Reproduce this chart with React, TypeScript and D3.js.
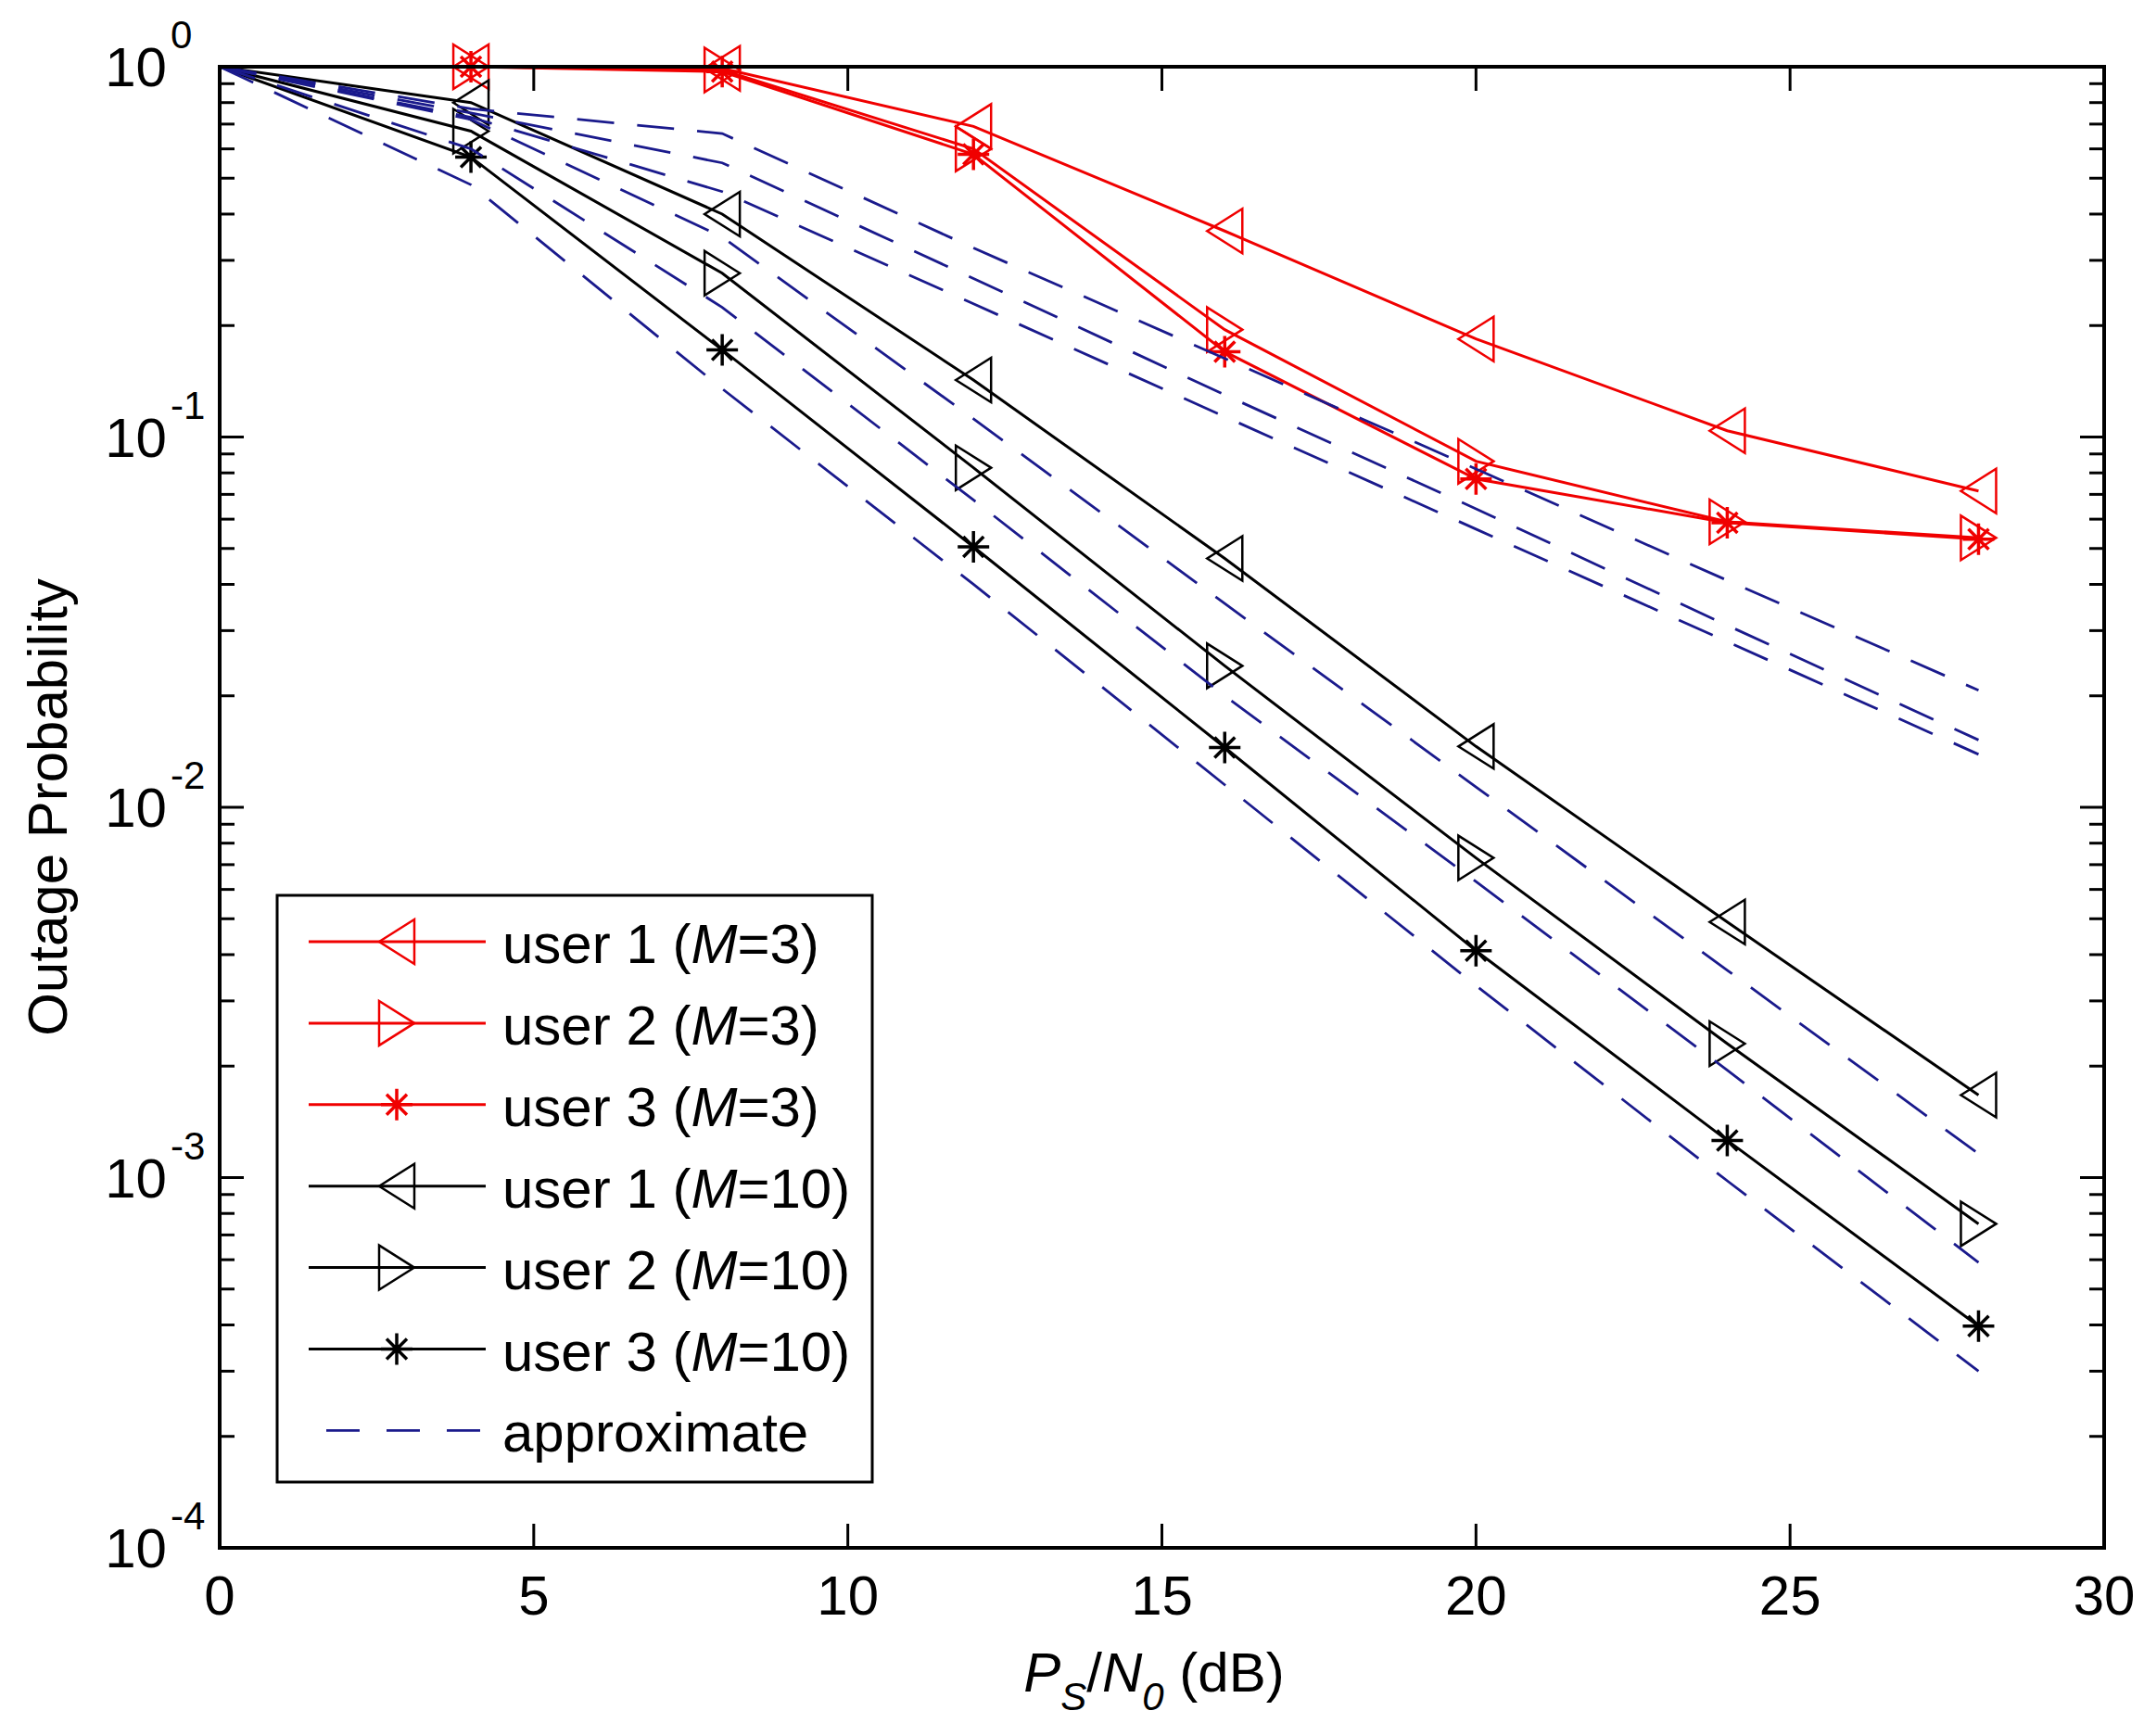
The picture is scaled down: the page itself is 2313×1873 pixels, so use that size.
import * as d3 from 'd3';
import { useEffect, useRef } from 'react';

const W = 2313;
const H = 1873;

// x values (dB) shared by every curve
const snrDb = [0, 4, 8, 12, 16, 20, 24, 28];

// simulated outage probability, M = 3
const user1M3 = [1, 1, 0.99, 0.69, 0.36, 0.184, 0.104, 0.0715];
const user2M3 = [1, 1, 0.98, 0.6, 0.195, 0.086, 0.059, 0.0534];
const user3M3 = [1, 1, 0.97, 0.58, 0.17, 0.077, 0.0587, 0.053];

// simulated outage probability, M = 10
const user1M10 = [1, 0.8, 0.4, 0.1425, 0.047, 0.0146, 0.0049, 0.00167];
const user2M10 = [1, 0.67, 0.277, 0.0826, 0.0241, 0.0073, 0.0023, 0.00075];
const user3M10 = [1, 0.57, 0.172, 0.0505, 0.0145, 0.0041, 0.00126, 0.000397];

// approximations (dashed)
const approxUser1M3 = [1, 0.77, 0.66, 0.324, 0.163, 0.082, 0.041, 0.0207];
const approxUser2M3 = [1, 0.75, 0.55, 0.268, 0.13, 0.064, 0.031, 0.0152];
const approxUser3M3 = [1, 0.73, 0.46, 0.229, 0.1135, 0.0564, 0.028, 0.0139];
const approxUser1M10 = [1, 0.72, 0.347, 0.112, 0.0355, 0.01135, 0.00363, 0.00116];
const approxUser2M10 = [1, 0.6, 0.224, 0.0676, 0.02, 0.0063, 0.00195, 0.00059];
const approxUser3M10 = [1, 0.48, 0.135, 0.04, 0.0115, 0.0033, 0.00098, 0.0003];

const xTicks = [0, 5, 10, 15, 20, 25, 30];
const legendUsers = ['user 1', 'user 2', 'user 3', 'user 1', 'user 2', 'user 3'];
const legendM = ['3', '3', '3', '10', '10', '10'];

const RED = '#f00000';
const BLACK = '#000000';
const BLUE = '#1a1a8c';
const FONT = '"Liberation Sans", Arial, Helvetica, sans-serif';

type MarkerKind = 'left' | 'right' | 'star';

const simulated: { values: number[]; color: string; marker: MarkerKind }[] = [
  { values: user1M3, color: RED, marker: 'left' },
  { values: user2M3, color: RED, marker: 'right' },
  { values: user3M3, color: RED, marker: 'star' },
  { values: user1M10, color: BLACK, marker: 'left' },
  { values: user2M10, color: BLACK, marker: 'right' },
  { values: user3M10, color: BLACK, marker: 'star' },
];

const approximations = [
  approxUser1M3,
  approxUser2M3,
  approxUser3M3,
  approxUser1M10,
  approxUser2M10,
  approxUser3M10,
];

const drawMarker = (
  g: d3.Selection<SVGGElement, unknown, null, undefined>,
  kind: MarkerKind,
  cx: number,
  cy: number,
  color: string,
) => {
  const hw = 19;
  const hh = 24;
  if (kind === 'left' || kind === 'right') {
    const s = kind === 'left' ? 1 : -1;
    g.append('path')
      .attr('d', `M${cx - s * hw},${cy}L${cx + s * hw},${cy - hh}L${cx + s * hw},${cy + hh}Z`)
      .attr('fill', 'none')
      .attr('stroke', color)
      .attr('stroke-width', 2.5)
      .attr('stroke-linejoin', 'miter');
    return;
  }
  const r = 17;
  const d = 11;
  g.append('path')
    .attr(
      'd',
      `M${cx},${cy - r}V${cy + r}M${cx - r},${cy}H${cx + r}` +
        `M${cx - d},${cy - d}L${cx + d},${cy + d}M${cx - d},${cy + d}L${cx + d},${cy - d}`,
    )
    .attr('stroke', color)
    .attr('stroke-width', 3.5);
};

export default function App() {
  const svgRef = useRef<SVGSVGElement | null>(null);

  useEffect(() => {
    const svg = d3.select(svgRef.current);
    svg.selectAll('*').remove();

    const x = d3.scaleLinear().domain([0, 30]).range([237, 2270]);
    const y = d3.scaleLog().domain([1e-4, 1]).range([1670, 72]);

    svg.append('rect').attr('width', W).attr('height', H).attr('fill', '#fff');

    svg
      .append('defs')
      .append('clipPath')
      .attr('id', 'plot-clip')
      .append('rect')
      .attr('x', x(0))
      .attr('y', y(1))
      .attr('width', x(30) - x(0))
      .attr('height', y(1e-4) - y(1));

    const line = d3
      .line<number>()
      .x((_, i) => x(snrDb[i]))
      .y((d) => y(d));

    // Curvas simuladas
    const curves = svg.append('g').attr('clip-path', 'url(#plot-clip)');
    simulated.forEach((s) => {
      curves
        .append('path')
        .attr('d', line(s.values))
        .attr('fill', 'none')
        .attr('stroke', s.color)
        .attr('stroke-width', 3);
    });

    // Marcadores (sin clip, como en MATLAB)
    const marks = svg.append('g');
    simulated.forEach((s) => {
      s.values.forEach((v, i) => {
        if (snrDb[i] === 0) return;
        drawMarker(marks, s.marker, x(snrDb[i]), y(v), s.color);
      });
    });

    // Aproximaciones
    const dashed = svg.append('g').attr('clip-path', 'url(#plot-clip)');
    approximations.forEach((vals) => {
      dashed
        .append('path')
        .attr('d', line(vals))
        .attr('fill', 'none')
        .attr('stroke', BLUE)
        .attr('stroke-width', 2.8)
        .attr('stroke-dasharray', '40 25');
    });

    // Ejes
    const axes = svg.append('g');
    const major = 26;
    const minor = 16;

    xTicks.forEach((v) => {
      axes
        .append('line')
        .attr('x1', x(v))
        .attr('x2', x(v))
        .attr('y1', y(1e-4))
        .attr('y2', y(1e-4) - major)
        .attr('stroke', BLACK)
        .attr('stroke-width', 3);
      axes
        .append('line')
        .attr('x1', x(v))
        .attr('x2', x(v))
        .attr('y1', y(1))
        .attr('y2', y(1) + major)
        .attr('stroke', BLACK)
        .attr('stroke-width', 3);
      axes
        .append('text')
        .attr('x', x(v))
        .attr('y', 1742)
        .attr('text-anchor', 'middle')
        .attr('font-family', FONT)
        .attr('font-size', 60)
        .text(String(v));
    });

    y.ticks().forEach((v) => {
      const exp = Math.log10(v);
      const isMajor = Math.abs(exp - Math.round(exp)) < 1e-9;
      const len = isMajor ? major : minor;
      axes
        .append('line')
        .attr('x1', x(0))
        .attr('x2', x(0) + len)
        .attr('y1', y(v))
        .attr('y2', y(v))
        .attr('stroke', BLACK)
        .attr('stroke-width', 3);
      axes
        .append('line')
        .attr('x1', x(30))
        .attr('x2', x(30) - len)
        .attr('y1', y(v))
        .attr('y2', y(v))
        .attr('stroke', BLACK)
        .attr('stroke-width', 3);
      if (!isMajor) return;
      axes
        .append('text')
        .attr('x', 180)
        .attr('y', y(v) + 21)
        .attr('text-anchor', 'end')
        .attr('font-family', FONT)
        .attr('font-size', 60)
        .text('10');
      axes
        .append('text')
        .attr('x', 184)
        .attr('y', y(v) - 20)
        .attr('font-family', FONT)
        .attr('font-size', 42)
        .text(String(Math.round(exp)));
    });

    axes
      .append('rect')
      .attr('x', x(0))
      .attr('y', y(1))
      .attr('width', x(30) - x(0))
      .attr('height', y(1e-4) - y(1))
      .attr('fill', 'none')
      .attr('stroke', BLACK)
      .attr('stroke-width', 4);

    // Etiquetas de ejes
    const xl = svg
      .append('text')
      .attr('x', 1245)
      .attr('y', 1825)
      .attr('text-anchor', 'middle')
      .attr('font-family', FONT)
      .attr('font-size', 60);
    xl.append('tspan').attr('font-style', 'italic').text('P');
    xl.append('tspan').attr('font-style', 'italic').attr('font-size', 42).attr('dy', 20).text('S');
    xl.append('tspan').attr('dy', -20).text('/');
    xl.append('tspan').attr('font-style', 'italic').text('N');
    xl.append('tspan').attr('font-style', 'italic').attr('font-size', 42).attr('dy', 20).text('0');
    xl.append('tspan').attr('dy', -20).text('\u00a0(dB)');

    svg
      .append('text')
      .attr('transform', `translate(72,${(y(1) + y(1e-4)) / 2}) rotate(-90)`)
      .attr('text-anchor', 'middle')
      .attr('font-family', FONT)
      .attr('font-size', 60)
      .text('Outage Probability');

    // Leyenda
    const lg = svg.append('g');
    lg.append('rect')
      .attr('x', 299)
      .attr('y', 966)
      .attr('width', 642)
      .attr('height', 633)
      .attr('fill', '#fff')
      .attr('stroke', BLACK)
      .attr('stroke-width', 3);

    const rowY = (i: number) => 1016 + i * 87.9;
    simulated.forEach((s, i) => {
      lg.append('line')
        .attr('x1', 333)
        .attr('x2', 524)
        .attr('y1', rowY(i))
        .attr('y2', rowY(i))
        .attr('stroke', s.color)
        .attr('stroke-width', 3);
      drawMarker(lg, s.marker, 428, rowY(i), s.color);
      const t = lg
        .append('text')
        .attr('x', 542)
        .attr('y', rowY(i) + 23)
        .attr('font-family', FONT)
        .attr('font-size', 60);
      t.append('tspan').text(`${legendUsers[i]} (`);
      t.append('tspan').attr('font-style', 'italic').text('M');
      t.append('tspan').text(`=${legendM[i]})`);
    });
    lg.append('line')
      .attr('x1', 352)
      .attr('x2', 524)
      .attr('y1', rowY(6))
      .attr('y2', rowY(6))
      .attr('stroke', BLUE)
      .attr('stroke-width', 2.8)
      .attr('stroke-dasharray', '36 29');
    lg.append('text')
      .attr('x', 542)
      .attr('y', rowY(6) + 23)
      .attr('font-family', FONT)
      .attr('font-size', 60)
      .text('approximate');
  }, []);

  return (
    <svg
      ref={svgRef}
      width={W}
      height={H}
      style={{ position: 'absolute', left: 0, top: 0, display: 'block' }}
    />
  );
}
